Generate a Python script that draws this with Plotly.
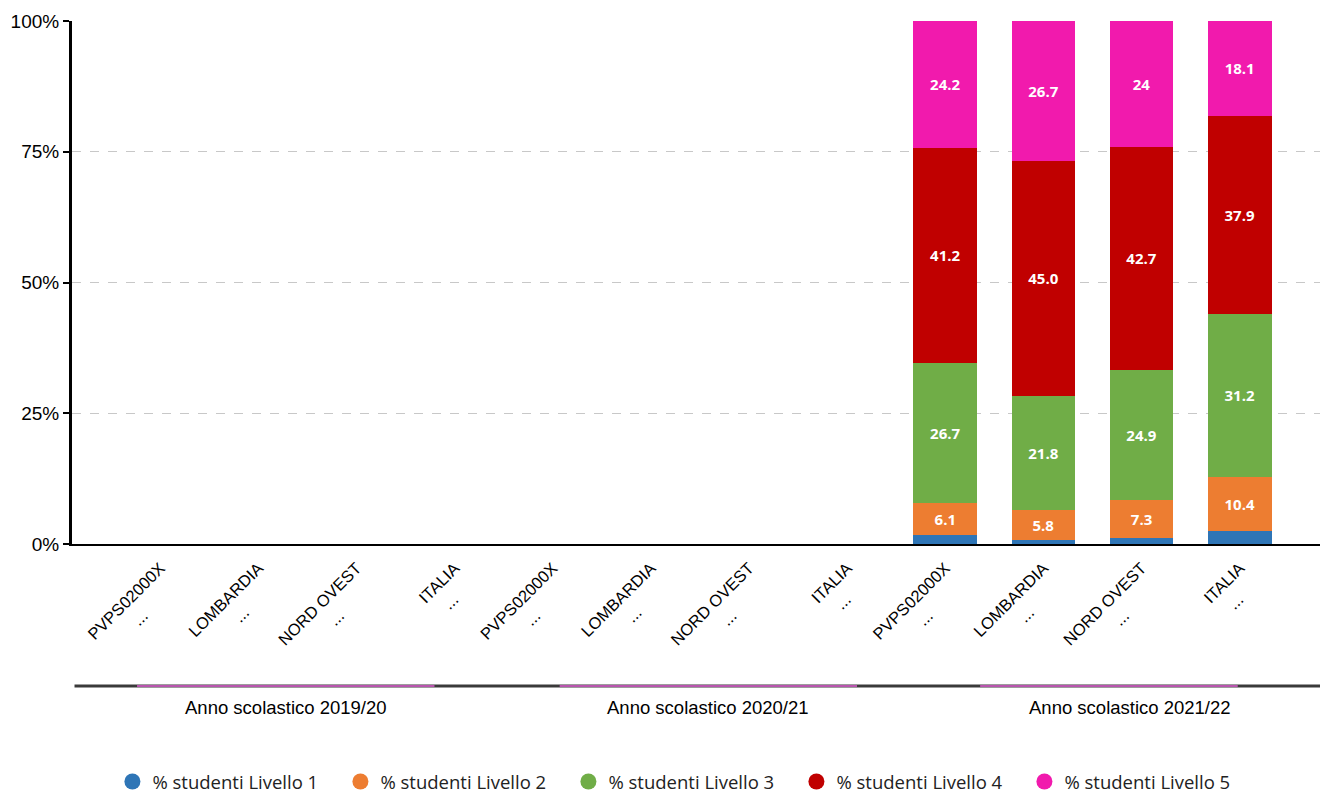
import plotly.graph_objects as go

years = ["Anno scolastico 2019/20", "Anno scolastico 2020/21", "Anno scolastico 2021/22"]
entities = ["PVPS02000X", "LOMBARDIA", "NORD OVEST", "ITALIA"]


def tick_text(name):
    # centre the "..." line under the rotated label (plotly end-aligns lines)
    pad = max(0, round((len(name) * 10.5 - 13) / 2 / 4.6))
    return f"{name}<br>...{'&nbsp;' * pad}"


tick_labels = [tick_text(e) for y in years for e in entities]

series_names = ["% studenti Livello 1", "% studenti Livello 2", "% studenti Livello 3",
                "% studenti Livello 4", "% studenti Livello 5"]
colors = ["#2e75b6", "#ed7d31", "#70ad47", "#c00000", "#f11aad"]

# values only for 2021/22 (earlier years empty)
empty = [None] * 8
livello1 = empty + [1.8, 0.7, 1.1, 2.4]
livello2 = empty + [6.1, 5.8, 7.3, 10.4]
livello3 = empty + [26.7, 21.8, 24.9, 31.2]
livello4 = empty + [41.2, 45.0, 42.7, 37.9]
livello5 = empty + [24.2, 26.7, 24, 18.1]
all_series = [livello1, livello2, livello3, livello4, livello5]

x_idx = list(range(len(tick_labels)))

fig = go.Figure()
for name, vals, col in zip(series_names, all_series, colors):
    fig.add_trace(go.Bar(
        x=x_idx, y=vals, name=name, marker_color=col, marker_line_width=0,
        width=0.65, showlegend=False,
        text=["" if v is None else str(v) for v in vals],
        textposition="inside", insidetextanchor="middle",
        textfont=dict(family="Open Sans", size=15, color="white", weight="bold"),
        hoverinfo="skip",
    ))
for name, col in zip(series_names, colors):
    fig.add_trace(go.Scatter(
        x=[None], y=[None], mode="markers", name=name,
        marker=dict(symbol="circle", size=22, color=col),
    ))

# the page body adds an 8px offset, so the figure is 8px smaller than the window
fig.update_layout(
    barmode="stack",
    width=1320, height=786,
    paper_bgcolor="white", plot_bgcolor="white",
    margin=dict(l=64, r=0, t=13, b=250, autoexpand=False),
    uniformtext=dict(minsize=13, mode="hide"),
    showlegend=True,
    legend=dict(orientation="h", traceorder="normal", x=0.486, xanchor="center",
                y=-0.455, yanchor="middle",
                font=dict(family="Open Sans", size=18.5, color="#222"),
                entrywidth=183, entrywidthmode="pixels", itemsizing="trace"),
    font=dict(family="Liberation Sans", size=16, color="black"),
)

fig.update_xaxes(
    range=[-0.9, 11.9], tickmode="array", tickvals=x_idx, ticktext=tick_labels,
    tickangle=-45, tickfont=dict(family="Liberation Sans", size=16.5, color="black"),
    showline=True, linecolor="black", linewidth=2, ticks="", showgrid=False,
    zeroline=False, automargin=False, ticklabelstandoff=6,
)
fig.update_yaxes(
    range=[0, 100], tickvals=[0, 25, 50, 75, 100],
    ticktext=["0%", "25%", "50%", "75%", "100%"],
    tickfont=dict(family="Liberation Sans", size=19, color="black"),
    showline=True, linecolor="black", linewidth=3, ticks="outside", ticklen=6,
    tickwidth=2, tickcolor="black", automargin=False,
    showgrid=True, gridcolor="#c8c8c8", griddash="dash", gridwidth=1, zeroline=False,
)

# group divider line and group labels
line_y = -0.2715
fig.add_shape(type="line", xref="paper", yref="paper", x0=0.002, x1=1, y0=line_y, y1=line_y,
              line=dict(color="#3a3a3a", width=3))
group_spans = [(-0.237, 2.794), (4.07, 7.10), (8.355, 10.98)]
group_centers = [1.28, 5.58, 9.886]
for (a, b), c, label in zip(group_spans, group_centers, years):
    fig.add_shape(type="line", xref="x", yref="paper", x0=a, x1=b, y0=line_y, y1=line_y,
                  line=dict(color="#e35fd6", width=1.5))
    fig.add_annotation(x=c, xref="x", y=-0.313, yref="paper", text=label, showarrow=False,
                       font=dict(family="Liberation Sans", size=18.5, color="black"),
                       yanchor="middle")

fig.write_html("out.html")
